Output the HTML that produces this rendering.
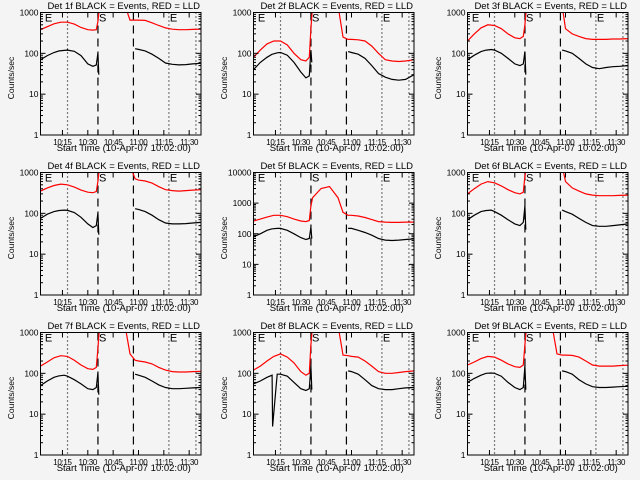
<!DOCTYPE html>
<html><head><meta charset="utf-8"><style>
body{margin:0;background:#f4f4f4;}
svg{display:block;font-family:"Liberation Sans",sans-serif;}
</style></head><body>
<svg id="chart" width="640" height="480" viewBox="0 0 640 480"></svg>
<script>
const detNames = ["1f","2f","3f","4f","5f","6f","7f","8f","9f"];
const decades = [3,3,3,3,4,3,3,3,3];
const tickLabels = ["10:15","10:30","10:45","11:00","11:15","11:30"];
const tickMinutes = [13,28,43,58,73,88];
const dottedMinutes = [16,76,92];
const dashedMinutes = [34,55];
const tBlack = [0,4,8,11,11.3,14,16,20,24,28,31,33,34,34.5,56,58,62,66,70,74,78,82,86,90,95];
const tRed = [0,4,8,12,16,20,24,28,31,33,34,35,40,45,50,53,56,58,62,66,70,74,78,82,86,90,95];
const black1 = [70,88,105,115,115,118,120,112,88,55,48,52,100,30,130,125,115,95,75,58,54,52,53,55,57];
const black2 = [40,60,80,95,95,103,105,90,60,35,25,28,120,60,110,105,95,75,50,32,26,23,22,23,30];
const black3 = [70,90,110,120,120,124,120,100,75,55,50,55,110,30,120,115,100,75,55,45,42,45,47,48,50];
const black4 = [75,95,110,117,117,120,118,105,80,55,45,50,100,30,130,125,110,90,70,58,55,55,56,58,60];
const black5 = [80,100,130,145,145,150,150,130,100,75,65,70,160,70,150,150,130,110,90,70,62,60,62,65,68];
const black6 = [70,90,110,117,117,120,110,90,70,55,50,60,150,40,120,110,95,75,60,50,48,48,50,52,55];
const black7 = [50,65,80,87,87,90,85,70,55,42,40,45,100,30,95,90,80,65,52,45,42,42,43,44,45];
const black8 = [55,65,80,90,5,95,95,85,60,42,38,42,150,40,115,110,95,70,50,42,40,40,42,44,45];
const black9 = [60,75,90,100,100,102,100,85,60,45,40,45,150,40,115,110,95,70,55,47,45,45,46,47,48];
const red1 = [380,450,530,580,580,520,430,380,370,380,600,1500,null,null,1500,650,650,650,640,560,480,420,390,380,380,385,390];
const red2 = [80,120,170,200,200,160,100,70,65,80,400,1500,null,null,1500,250,220,220,215,200,150,100,70,65,63,65,70];
const red3 = [200,300,420,500,480,400,300,240,230,260,500,1500,null,null,1500,1500,1500,400,300,260,230,220,220,220,225,225,230];
const red4 = [350,420,480,520,500,440,370,330,320,340,600,1500,null,null,1500,1500,700,650,620,550,450,380,360,350,360,370,380];
const red5 = [260,300,350,400,400,360,300,260,250,270,800,1500,3000,3500,1500,500,400,400,380,340,290,250,240,235,235,240,240];
const red6 = [300,400,520,600,560,470,380,320,300,330,800,1500,null,null,1500,1500,1500,600,420,350,300,280,270,270,270,275,280];
const red7 = [150,190,240,270,260,210,160,130,125,140,400,1500,null,null,1500,300,210,200,190,170,140,120,110,108,108,110,112];
const red8 = [120,150,200,260,300,250,180,110,90,100,500,1500,null,null,1500,280,270,260,250,200,150,110,100,100,105,110,115];
const red9 = [160,190,230,260,250,210,170,145,140,160,500,1500,null,null,1500,300,280,280,275,250,200,160,150,150,150,155,158];
const blacks=[black1,black2,black3,black4,black5,black6,black7,black8,black9];
const reds=[red1,red2,red3,red4,red5,red6,red7,red8,red9];

const NS="http://www.w3.org/2000/svg";
const svg=document.getElementById('chart');
function mk(tag,attrs,parent){const e=document.createElementNS(NS,tag);for(const k in attrs)e.setAttribute(k,attrs[k]);(parent||svg).appendChild(e);return e;}

for(let p=0;p<9;p++){
  const ox=Math.round((p%3)*213.33), oy=Math.floor(p/3)*160;
  const L=ox+40.5, R=ox+201, T=oy+12.5, B=oy+135;
  const nd=decades[p];
  const xs=t=>L+(t/95)*(R-L);
  const ys=v=>B-(Math.log10(v)/nd)*(B-T);
  const g=mk('g',{});
  
  
  const cp=mk('clipPath',{id:'cp'+p},g);
  mk('rect',{x:L,y:T,width:R-L,height:B-T},cp);
  dottedMinutes.forEach(m=>{const l=mk('line',{x1:xs(m),x2:xs(m),y1:T,y2:B,stroke:'#000','stroke-width':1.2,'stroke-dasharray':'1 3'},g);
    });
  dashedMinutes.forEach(m=>{const l=mk('line',{x1:xs(m),x2:xs(m),y1:T,y2:B,stroke:'#000','stroke-width':1.2,'stroke-dasharray':'8 5'},g);
    });
  function path(ts,vs,color,name){
    let d='',pen=false,prevT=null;
    for(let i=0;i<ts.length;i++){
      const v=vs[i];
      if(v==null){pen=false;continue;}
      if(color==='#000'&&prevT!==null&&ts[i]-prevT>10)pen=false;
      d+=(pen?'L':'M')+xs(ts[i]).toFixed(1)+' '+ys(v).toFixed(1);
      pen=true;prevT=ts[i];
    }
    const e=mk('path',{d:d,fill:'none',stroke:color,'stroke-width':1.2,'clip-path':'url(#cp'+p+')'},g);
    
  }
  path(tRed,reds[p],'#f00','red-lld-series');
  path(tBlack,blacks[p],'#000','black-events-series');
  const fr=mk('rect',{x:L,y:T,width:R-L,height:B-T,fill:'none',stroke:'#000','stroke-width':1},g);
  
  for(let k=0;k<=nd;k++){
    const y=ys(Math.pow(10,k));
    mk('line',{x1:L,x2:L+5,y1:y,y2:y,stroke:'#000'},g);
    mk('line',{x1:R,x2:R-5,y1:y,y2:y,stroke:'#000'},g);
    const tx=mk('text',{x:L-2,y:y+3,'font-size':8.5,'text-anchor':'end'},g);
    tx.textContent=String(Math.pow(10,k));
    
    if(k<nd)for(let m=2;m<10;m++){const ym=ys(m*Math.pow(10,k));
      mk('line',{x1:L,x2:L+2.5,y1:ym,y2:ym,stroke:'#000'},g);mk('line',{x1:R,x2:R-2.5,y1:ym,y2:ym,stroke:'#000'},g);}
  }
  tickMinutes.forEach((m,i)=>{
    const x=xs(m);
    mk('line',{x1:x,x2:x,y1:B,y2:B-5,stroke:'#000'},g);
    mk('line',{x1:x,x2:x,y1:T,y2:T+5,stroke:'#000'},g);
    const tx=mk('text',{x:x,y:B+10,'font-size':8,'text-anchor':'middle','letter-spacing':'-0.3'},g);
    tx.textContent=tickLabels[i];
    
  });
  const tt=mk('text',{x:(L+R)/2+3,y:oy+9,'font-size':9.5,'text-anchor':'middle'},g);
  tt.textContent='Det '+detNames[p]+' BLACK = Events, RED = LLD';
  
  const xt=mk('text',{x:(L+R)/2+3,y:oy+151,'font-size':9.5,'text-anchor':'middle'},g);
  xt.textContent='Start Time (10-Apr-07 10:02:00)';
  
  const yt=mk('text',{x:0,y:0,'font-size':8.5,'text-anchor':'middle',transform:'translate('+(ox+14)+','+(oy+78)+') rotate(-90)'},g);
  yt.textContent='Counts/sec';
  
  [[2,'E'],[34,'S'],[76,'E']].forEach(([m,s])=>{
    const e=mk('text',{x:xs(m)+1,y:T+9,'font-size':11,'text-anchor':'start'},g);
    e.textContent=s;
    
  });
}
</script>
</body></html>
